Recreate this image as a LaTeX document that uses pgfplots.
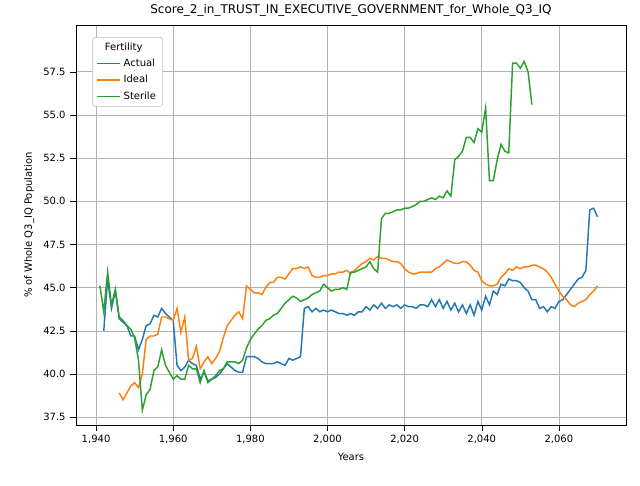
\documentclass[border=0pt]{standalone}
\usepackage{pgfplots}
\pgfplotsset{compat=1.18}
\usepackage{fontspec}
\setmainfont{DejaVu Sans}
\definecolor{c1}{HTML}{1F77B4}
\definecolor{c2}{HTML}{FF7F0E}
\definecolor{c3}{HTML}{2CA02C}
\begin{document}
\begin{tikzpicture}
\begin{axis}[width=412.5pt,height=300pt,scale only axis,
 xmin=1934.8,xmax=2077.4,ymin=37.04,ymax=60.2,
 xtick={1940,1960,...,2060},
 ytick={37.5,40,...,57.5},
 yticklabel style={/pgf/number format/.cd,fixed,fixed zerofill,precision=1},
 /pgf/number format/assume math mode=true,
 grid=major, grid style={gray!60},
 tick align=outside, tick style={black},
 xtick pos=bottom, ytick pos=left,
 ticklabel style={font=\fontsize{7.5}{9}\selectfont},
 label style={font=\fontsize{7.5}{9}\selectfont},
 xlabel={Years}, ylabel={\% of Whole Q3\_IQ Population},
 title={Score\_2\_in\_TRUST\_IN\_EXECUTIVE\_GOVERNMENT\_for\_Whole\_Q3\_IQ},
 title style={font=\fontsize{9}{11}\selectfont,yshift=-3pt},
 legend pos=north west,
 legend style={font=\fontsize{7.5}{9}\selectfont,draw=gray!50,rounded corners=2pt,row sep=1pt},
 legend cell align=left,
 every axis plot/.append style={line width=1.1pt},
]
\addlegendimage{empty legend}\addlegendentry{\hspace{-14pt}Fertility}
\addplot[c1] coordinates {(1942,42.5)(1943,45.5)(1944,43.8)(1945,44.8)(1946,43.2)(1947,43.0)(1948,42.8)(1949,42.2)(1950,42.2)(1951,41.4)(1952,42.0)(1953,42.8)(1954,42.9)(1955,43.4)(1956,43.3)(1957,43.8)(1958,43.5)(1959,43.3)(1960,43.1)(1961,40.5)(1962,40.2)(1963,40.4)(1964,40.8)(1965,40.6)(1966,40.5)(1967,39.7)(1968,40.1)(1969,39.6)(1970,39.7)(1971,39.8)(1972,40.0)(1973,40.3)(1974,40.6)(1975,40.4)(1976,40.2)(1977,40.1)(1978,40.1)(1979,41.0)(1980,41.0)(1981,41.0)(1982,40.9)(1983,40.7)(1984,40.6)(1985,40.6)(1986,40.6)(1987,40.7)(1988,40.6)(1989,40.5)(1990,40.9)(1991,40.8)(1992,40.9)(1993,41.0)(1994,43.8)(1995,43.9)(1996,43.6)(1997,43.8)(1998,43.6)(1999,43.7)(2000,43.6)(2001,43.7)(2002,43.6)(2003,43.5)(2004,43.5)(2005,43.4)(2006,43.5)(2007,43.4)(2008,43.6)(2009,43.6)(2010,43.9)(2011,43.7)(2012,44.0)(2013,43.8)(2014,44.1)(2015,43.8)(2016,44.0)(2017,43.9)(2018,44.0)(2019,43.8)(2020,44.0)(2021,43.9)(2022,43.9)(2023,43.8)(2024,44.0)(2025,44.0)(2026,43.9)(2027,44.3)(2028,43.9)(2029,44.3)(2030,43.8)(2031,44.2)(2032,43.7)(2033,44.1)(2034,43.6)(2035,44.0)(2036,43.5)(2037,44.0)(2038,43.4)(2039,44.2)(2040,43.7)(2041,44.5)(2042,44.0)(2043,44.8)(2044,44.6)(2045,45.2)(2046,45.1)(2047,45.5)(2048,45.4)(2049,45.4)(2050,45.3)(2051,45.0)(2052,44.8)(2053,44.3)(2054,44.3)(2055,43.8)(2056,43.9)(2057,43.6)(2058,43.9)(2059,43.8)(2060,44.2)(2061,44.3)(2062,44.6)(2063,44.9)(2064,45.2)(2065,45.5)(2066,45.6)(2067,46.0)(2068,49.5)(2069,49.6)(2070,49.1)};
\addlegendentry{Actual}
\addplot[c2] coordinates {(1946,38.9)(1947,38.5)(1948,38.9)(1949,39.3)(1950,39.5)(1951,39.2)(1952,40.0)(1953,42.0)(1954,42.2)(1955,42.2)(1956,42.3)(1957,43.3)(1958,43.3)(1959,43.2)(1960,43.1)(1961,43.8)(1962,42.4)(1963,43.3)(1964,40.8)(1965,40.9)(1966,41.6)(1967,40.3)(1968,40.7)(1969,41.0)(1970,40.6)(1971,40.9)(1972,41.3)(1973,42.1)(1974,42.8)(1975,43.1)(1976,43.4)(1977,43.6)(1978,43.2)(1979,45.1)(1980,44.9)(1981,44.7)(1982,44.7)(1983,44.6)(1984,45.0)(1985,45.3)(1986,45.3)(1987,45.6)(1988,45.6)(1989,45.5)(1990,45.8)(1991,46.1)(1992,46.1)(1993,46.2)(1994,46.1)(1995,46.2)(1996,45.7)(1997,45.6)(1998,45.6)(1999,45.7)(2000,45.7)(2001,45.8)(2002,45.8)(2003,45.9)(2004,45.9)(2005,46.0)(2006,45.8)(2007,46.0)(2008,46.2)(2009,46.4)(2010,46.5)(2011,46.7)(2012,46.6)(2013,46.8)(2014,46.7)(2015,46.7)(2016,46.6)(2017,46.5)(2018,46.5)(2019,46.4)(2020,46.1)(2021,45.9)(2022,45.8)(2023,45.8)(2024,45.9)(2025,45.9)(2026,45.9)(2027,45.9)(2028,46.1)(2029,46.2)(2030,46.4)(2031,46.6)(2032,46.5)(2033,46.4)(2034,46.4)(2035,46.5)(2036,46.5)(2037,46.3)(2038,46.0)(2039,45.9)(2040,45.4)(2041,45.2)(2042,45.1)(2043,45.1)(2044,45.2)(2045,45.6)(2046,45.8)(2047,46.1)(2048,46.0)(2049,46.2)(2050,46.1)(2051,46.2)(2052,46.2)(2053,46.3)(2054,46.3)(2055,46.2)(2056,46.1)(2057,45.9)(2058,45.6)(2059,45.2)(2060,44.8)(2061,44.5)(2062,44.3)(2063,44.0)(2064,43.9)(2065,44.1)(2066,44.2)(2067,44.3)(2068,44.6)(2069,44.8)(2070,45.1)};
\addlegendentry{Ideal}
\addplot[c3] coordinates {(1941,45.1)(1942,43.6)(1943,45.9)(1944,44.0)(1945,44.9)(1946,43.3)(1947,43.1)(1948,42.8)(1949,42.6)(1950,42.1)(1951,40.8)(1952,37.9)(1953,38.8)(1954,39.1)(1955,40.2)(1956,40.4)(1957,41.4)(1958,40.5)(1959,40.1)(1960,39.7)(1961,39.9)(1962,39.7)(1963,39.7)(1964,40.5)(1965,40.3)(1966,40.3)(1967,39.5)(1968,40.2)(1969,39.5)(1970,39.7)(1971,39.9)(1972,40.2)(1973,40.3)(1974,40.7)(1975,40.7)(1976,40.7)(1977,40.6)(1978,40.8)(1979,41.5)(1980,42.0)(1981,42.3)(1982,42.6)(1983,42.8)(1984,43.1)(1985,43.2)(1986,43.4)(1987,43.5)(1988,43.8)(1989,44.1)(1990,44.3)(1991,44.5)(1992,44.4)(1993,44.2)(1994,44.3)(1995,44.4)(1996,44.6)(1997,44.7)(1998,44.8)(1999,45.2)(2000,45.0)(2001,44.8)(2002,44.9)(2003,44.9)(2004,45.0)(2005,44.9)(2006,45.9)(2007,45.9)(2008,46.0)(2009,46.1)(2010,46.2)(2011,46.5)(2012,46.1)(2013,45.9)(2014,49.0)(2015,49.3)(2016,49.3)(2017,49.4)(2018,49.5)(2019,49.5)(2020,49.6)(2021,49.6)(2022,49.7)(2023,49.8)(2024,50.0)(2025,50.0)(2026,50.1)(2027,50.2)(2028,50.1)(2029,50.3)(2030,50.2)(2031,50.6)(2032,50.3)(2033,52.4)(2034,52.6)(2035,52.9)(2036,53.7)(2037,53.7)(2038,53.4)(2039,54.2)(2040,54.0)(2041,55.4)(2042,51.2)(2043,51.2)(2044,52.4)(2045,53.3)(2046,52.9)(2047,52.8)(2048,58.0)(2049,58.0)(2050,57.7)(2051,58.1)(2052,57.5)(2053,55.6)};
\addlegendentry{Sterile}
\end{axis}
\path (current axis.south west)+(-57pt,-45pt) rectangle ([shift={(10.5pt,15pt)}]current axis.north east);
\end{tikzpicture}
\end{document}
